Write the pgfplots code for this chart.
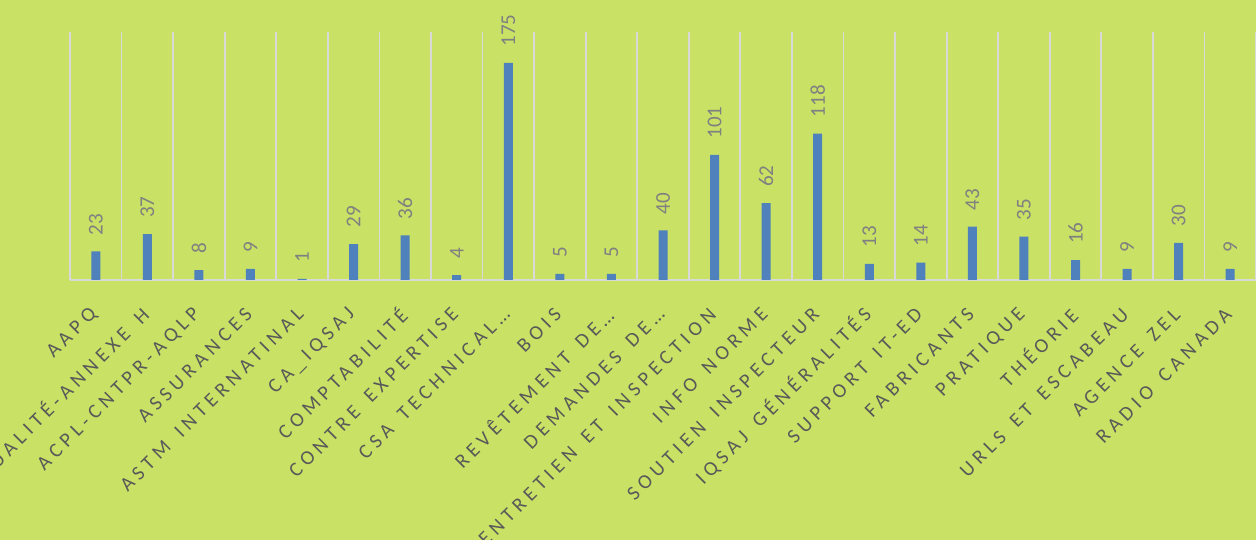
\documentclass[border=0pt]{standalone}
\usepackage{fontspec}
\setmainfont{Carlito}
\newfontfamily\labfont[LetterSpace=24, WordSpace=1.5]{Carlito}
\usepackage{pgfplots}
\pgfplotsset{compat=1.18}
\definecolor{bg}{RGB}{201,226,101}
\definecolor{barblue}{RGB}{79,129,189}
\definecolor{gridcol}{RGB}{217,217,217}
\definecolor{labgray}{RGB}{89,89,89}
\definecolor{numgray}{RGB}{128,128,128}
\begin{document}
\begin{tikzpicture}
\clip (0,0) rectangle (25.12cm,10.8cm);
\fill[bg] (0,0) rectangle (25.12cm,10.8cm);
\begin{axis}[
    at={(1.4cm,5.2cm)}, anchor=south west,
    scale only axis,
    width=23.72cm, height=4.96cm,
    xmin=-0.5, xmax=22.5,
    ymin=0, ymax=200,
    ybar, bar width=0.18cm,
    axis y line=none,
    axis x line*=bottom,
    axis line style={-, draw=gridcol, line width=1pt},
    xtick={0,...,22},
    xticklabels={AAPQ, QUALITÉ-ANNEXE H, ACPL-CNTPR-AQLP, ASSURANCES,
        ASTM INTERNATINAL, CA\_IQSAJ, COMPTABILITÉ, CONTRE EXPERTISE,
        CSA TECHNICAL…, BOIS, REVÊTEMENT DE…, DEMANDES DE…,
        ENTRETIEN ET INSPECTION, INFO NORME, SOUTIEN INSPECTEUR,
        IQSAJ GÉNÉRALITÉS, SUPPORT IT-ED, FABRICANTS, PRATIQUE, THÉORIE,
        URLS ET ESCABEAU, AGENCE ZEL, RADIO CANADA},
    minor xtick={-0.5,0.5,...,22.5},
    xminorgrids,
    minor grid style={draw=gridcol, line width=1pt},
    major tick length=0pt, minor tick length=0pt,
    xticklabel style={xshift=0.05cm, yshift=-0.54cm, rotate=45, anchor=east,
        font=\labfont\fontsize{11.5}{13}\selectfont,
        text=labgray},
    nodes near coords,
    /pgf/number format/assume math mode=true,
    every node near coord/.append style={rotate=90, anchor=west,
        inner xsep=0.32cm, font=\fontsize{12}{14}\selectfont, text=numgray},
    clip=false,
]
\addplot[fill=barblue, draw=none] coordinates {
    (0,23) (1,37) (2,8) (3,9) (4,1) (5,29) (6,36) (7,4) (8,175) (9,5)
    (10,5) (11,40) (12,101) (13,62) (14,118) (15,13) (16,14) (17,43)
    (18,35) (19,16) (20,9) (21,30) (22,9)};
\end{axis}
\end{tikzpicture}
\end{document}
